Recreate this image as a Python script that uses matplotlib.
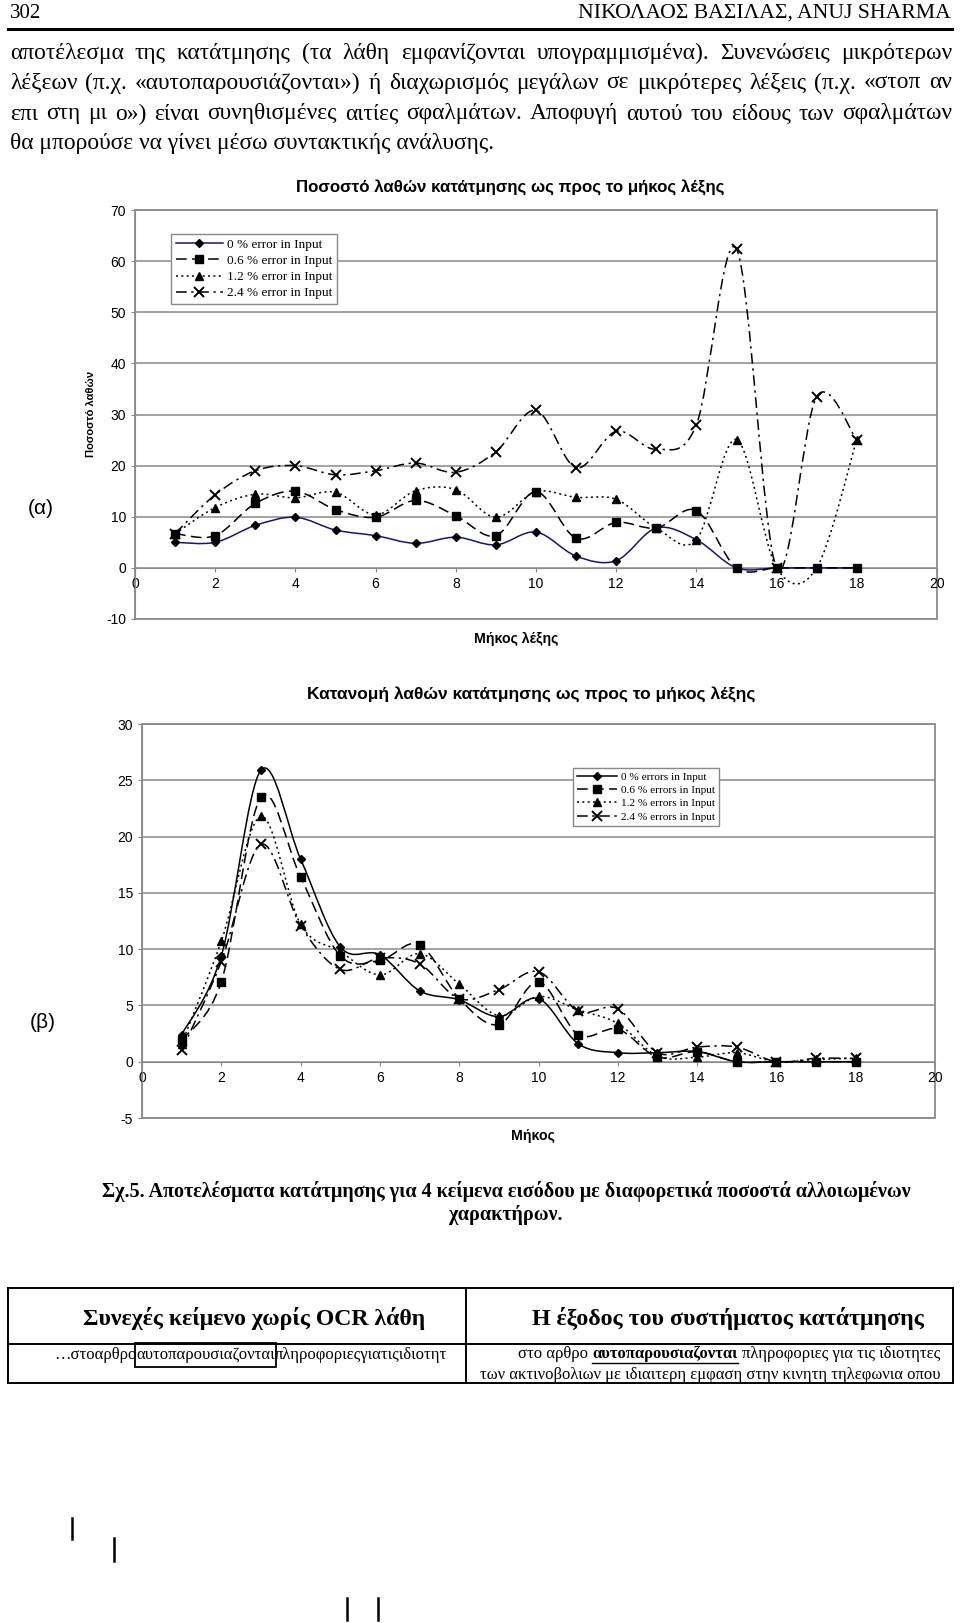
import numpy as np
import matplotlib
matplotlib.use('Agg')
import matplotlib.pyplot as plt
from matplotlib.path import Path
from matplotlib.patches import PathPatch, Rectangle
from matplotlib.lines import Line2D

plt.rcParams['axes.unicode_minus'] = False

W, H = 960, 1623
SANS = 'Liberation Sans'
SERIF = 'Liberation Serif'

# ---- data, chart (α): percentage of segmentation errors per word length
lengths = list(range(1, 19))
a_err_0 = [5.0, 5.0, 8.3, 9.9, 7.4, 6.3, 4.8, 6.0, 4.5, 7.0, 2.3, 1.4, 7.8, 5.5, 0, 0, 0, 0]
a_err_06 = [6.7, 6.3, 12.6, 15.0, 11.4, 9.9, 13.2, 10.2, 6.3, 14.9, 5.8, 8.9, 7.8, 11.2, 0, 0, 0, 0]
a_err_12 = [6.7, 11.8, 14.4, 13.7, 14.8, 10.4, 15.1, 15.3, 9.9, 14.9, 13.8, 13.4, 7.8, 5.5, 25.1, 0, 0, 25.1]
a_err_24 = [6.7, 14.3, 19.0, 20.0, 18.2, 19.0, 20.5, 18.7, 22.7, 30.8, 19.6, 26.7, 23.2, 28.0, 62.4, 0, 33.5, 25.0]
a_labels = ['0 % error in Input', '0.6 % error in Input', '1.2 % error in Input', '2.4 % error in Input']

# ---- data, chart (β): distribution of segmentation errors per word length
b_err_0 = [2.4, 9.4, 25.9, 18.0, 10.2, 9.5, 6.3, 5.5, 4.0, 5.6, 1.6, 0.8, 0.8, 0.9, 0, 0, 0, 0]
b_err_06 = [1.9, 7.1, 23.5, 16.4, 9.4, 9.0, 10.4, 5.6, 3.3, 7.1, 2.4, 2.9, 0.4, 0.9, 0, 0, 0, 0]
b_err_12 = [1.6, 10.7, 21.8, 12.2, 9.8, 7.7, 9.6, 6.9, 4.1, 5.8, 4.6, 3.4, 0.5, 0.4, 0.8, 0, 0.2, 0.3]
b_err_24 = [1.0, 8.9, 19.3, 12.1, 8.2, 9.2, 8.7, 5.6, 6.4, 8.0, 4.5, 4.7, 0.8, 1.3, 1.3, 0, 0.3, 0.3]
b_labels = ['0 % errors in Input', '0.6 % errors in Input', '1.2 % errors in Input', '2.4 % errors in Input']

para = [
    "αποτέλεσμα της κατάτμησης (τα λάθη εμφανίζονται υπογραμμισμένα). Συνενώσεις μικρότερων",
    "λέξεων (π.χ. «αυτοπαρουσιάζονται») ή διαχωρισμός μεγάλων σε μικρότερες λέξεις (π.χ. «στοπ αν",
    "επι στη μι ο») είναι συνηθισμένες αιτίες σφαλμάτων. Αποφυγή αυτού του είδους των σφαλμάτων",
    "θα μπορούσε να γίνει μέσω συντακτικής ανάλυσης.",
]

fig = plt.figure(figsize=(9.6, 16.23), dpi=100)
r = fig.canvas.get_renderer()


def px(x, y):
    return x / W, 1 - y / H


def width(t):
    return t.get_window_extent(r).width


def fit(t, target):
    t.set_fontsize(t.get_fontsize() * target / width(t))


def justify(line, x0, x1, y, size):
    words = line.split()
    ts = [fig.text(*px(0, y), w, fontsize=size, family=SERIF, va='center') for w in words]
    ws = [width(t) for t in ts]
    gap = (x1 - x0 - sum(ws)) / (len(ws) - 1)
    x = x0
    for t, w in zip(ts, ws):
        t.set_x(x / W)
        x += w + gap


def smooth(ax, xs, ys, **kw):
    # Excel-like smoothed line: Catmull-Rom segments as cubic Bezier
    pts = np.column_stack([xs, ys]).astype(float)
    n = len(pts)
    verts, codes = [pts[0]], [Path.MOVETO]
    for i in range(n - 1):
        p0, p1, p2, p3 = pts[max(i - 1, 0)], pts[i], pts[i + 1], pts[min(i + 2, n - 1)]
        verts += [p1 + (p2 - p0) / 6, p2 - (p3 - p1) / 6, p2]
        codes += [Path.CURVE4] * 3
    ax.add_patch(PathPatch(Path(verts, codes), fill=False, **kw))


# header
fig.text(*px(10, 13), '302', family=SERIF, fontsize=15, va='center')
t = fig.text(*px(951, 13), 'ΝΙΚΟΛΑΟΣ ΒΑΣΙΛΑΣ, ANUJ SHARMA', family=SERIF, fontsize=15,
             va='center', ha='right')
fit(t, 373)
fig.add_artist(Line2D([8 / W, 952 / W], [1 - 29 / H] * 2, color='black', lw=2.2))

# paragraph: pick the size so the longest line fills the column with tight spacing
probe = fig.text(0, 0, para[1], family=SERIF, fontsize=15)
psize = 15 * 925 / width(probe)
probe.remove()
for i, (line, y) in enumerate(zip(para, [53, 83, 114, 144])):
    if i < 3:
        justify(line, 10, 952, y, psize)
    else:
        fig.text(*px(10, y), line, family=SERIF, fontsize=psize, va='center')

styles = [
    dict(ls='-', marker='D', ms=4.5),
    dict(ls=(0, (7, 3.5)), marker='s', ms=6),
    dict(ls=(0, (1.3, 2.2)), marker='^', ms=6),
    dict(ls=(0, (7, 3, 1.5, 3)), marker='x', ms=7, mew=1.4),
]


def setup(ax, ylim, step):
    ax.set_xlim(0, 20)
    ax.set_ylim(*ylim)
    ax.set_xticks(range(0, 21, 2))
    ax.set_yticks(range(ylim[0], ylim[1] + 1, step))
    ax.yaxis.grid(True, color='#8a8a8a', lw=1.1)
    ax.set_axisbelow(True)
    for s in ['top', 'right']:
        ax.spines[s].set_visible(False)
    ax.spines['bottom'].set_position(('data', 0))
    ax.spines['bottom'].set_color('#8a8a8a')
    ax.spines['left'].set_color('#8a8a8a')
    ax.patch.set_edgecolor('#8a8a8a')
    ax.patch.set_linewidth(1.3)
    ax.tick_params(colors='#8a8a8a', labelcolor='black', labelsize=10, length=3)
    for lab in ax.get_xticklabels() + ax.get_yticklabels():
        lab.set_family(SANS)


def draw(ax, series, colors, labels, legend_at, legend_size):
    handles = []
    for ys, st, c in zip(series, styles, colors):
        smooth(ax, lengths, ys, ec=c, lw=1.1, ls=st['ls'], zorder=3)
        ax.plot(lengths, ys, ls='none', marker=st['marker'], ms=st['ms'], mew=st.get('mew', 1),
                color='black', zorder=4)
        handles.append(Line2D([], [], color=c, lw=1.1, ls=st['ls'], marker=st['marker'],
                              ms=st['ms'], mew=st.get('mew', 1), mfc='black', mec='black'))
    leg = ax.legend(handles, labels, loc='upper left', bbox_to_anchor=px(*legend_at),
                    bbox_transform=fig.transFigure, prop=dict(family=SERIF, size=legend_size),
                    fancybox=False, edgecolor='#8a8a8a', framealpha=1, handlelength=3.6,
                    labelspacing=0.3, borderpad=0.35, handletextpad=0.3, borderaxespad=0)
    leg.get_frame().set_linewidth(1)


# chart (α)
ax1 = fig.add_axes([135 / W, 1 - 619 / H, (937 - 135) / W, (619 - 210) / H])
setup(ax1, (-10, 70), 10)
draw(ax1, [a_err_0, a_err_06, a_err_12, a_err_24], ['#161670', 'black', 'black', 'black'],
     a_labels, (171, 234), 9.5)
fig.text(*px(510, 188), 'Ποσοστό λαθών κατάτμησης ως προς το μήκος λέξης', family=SANS,
         weight='bold', fontsize=12.2, ha='center', va='center')
fig.text(*px(516, 639), 'Μήκος λέξης', family=SANS, weight='bold', fontsize=10.2,
         ha='center', va='center')
fig.text(*px(91, 414), 'Ποσοστό λαθών', family=SANS, weight='bold', fontsize=8,
         ha='center', va='center', rotation=90)
fig.text(*px(41, 508), '(α)', family=SANS, fontsize=15, ha='center', va='center')

# chart (β)
ax2 = fig.add_axes([142 / W, 1 - 1118 / H, (935 - 142) / W, (1118 - 724) / H])
setup(ax2, (-5, 30), 5)
draw(ax2, [b_err_0, b_err_06, b_err_12, b_err_24], ['black'] * 4, b_labels, (573, 768), 8.1)
fig.text(*px(531, 695), 'Κατανομή λαθών κατάτμησης ως προς το μήκος λέξης', family=SANS,
         weight='bold', fontsize=12.5, ha='center', va='center')
fig.text(*px(533, 1136), 'Μήκος', family=SANS, weight='bold', fontsize=10.2,
         ha='center', va='center')
fig.text(*px(43, 1023), '(β)', family=SANS, fontsize=15, ha='center', va='center')

# caption
t = fig.text(*px(506, 1191), 'Σχ.5. Αποτελέσματα κατάτμησης για 4 κείμενα εισόδου με '
             'διαφορετικά ποσοστά αλλοιωμένων', family=SERIF, weight='bold', fontsize=15,
             ha='center', va='center')
fit(t, 811)
fig.text(*px(506, 1215), 'χαρακτήρων.', family=SERIF, weight='bold', fontsize=t.get_fontsize(),
         ha='center', va='center')

# table
for y in [1288, 1344, 1383]:
    fig.add_artist(Line2D([8 / W, 953 / W], [1 - y / H] * 2, color='black', lw=1.4))
for x in [8, 466, 953]:
    fig.add_artist(Line2D([x / W] * 2, [1 - 1288 / H, 1 - 1383 / H], color='black', lw=1.4))
t = fig.text(*px(254, 1318), 'Συνεχές κείμενο χωρίς OCR λάθη', family=SERIF, weight='bold',
             fontsize=16, ha='center', va='center')
fit(t, 342)
t = fig.text(*px(728, 1318), 'Η έξοδος του συστήματος κατάτμησης', family=SERIF,
             weight='bold', fontsize=16, ha='center', va='center')
fit(t, 393)

cell = 12
x = 54
for k, piece in enumerate(['…στοαρθρο', 'αυτοπαρουσιαζονται', 'πληροφοριεςγιατιςιδιοτητ']):
    tt = fig.text(*px(x, 1355), piece, family=SERIF, fontsize=cell, va='center')
    w = width(tt)
    if k == 1:
        fig.add_artist(Rectangle(px(x - 1, 1367), (w + 2) / W, 24 / H, fill=False,
                                 ec='black', lw=1.3, transform=fig.transFigure))
    x += w

sp = cell * 100 / 72 * 0.25
pieces = [('στο αρθρο', 'normal'), ('αυτοπαρουσιαζονται', 'bold'),
          ('πληροφοριες για τις ιδιοτητες', 'normal')]
ts = [fig.text(*px(0, 1354), p, family=SERIF, fontsize=cell, weight=wt, va='center')
      for p, wt in pieces]
ws = [width(tt) for tt in ts]
x = 940 - sum(ws) - 2 * sp
for k, (tt, w) in enumerate(zip(ts, ws)):
    tt.set_x(x / W)
    if k == 1:
        fig.add_artist(Line2D([x / W, (x + w) / W], [1 - 1363 / H] * 2, color='black', lw=1))
    x += w + sp
fig.text(*px(940, 1375), 'των ακτινοβολιων με ιδιαιτερη εμφαση στην κινητη τηλεφωνια οπου',
         family=SERIF, fontsize=cell, ha='right', va='center')

# stray marks at the bottom of the page
for x, y0, y1 in [(72, 1518, 1539), (114, 1538, 1561), (347, 1598, 1620), (378, 1598, 1620)]:
    fig.add_artist(Line2D([x / W] * 2, [1 - y0 / H, 1 - y1 / H], color='black', lw=1.8))

fig.savefig('out.png', dpi=100)
